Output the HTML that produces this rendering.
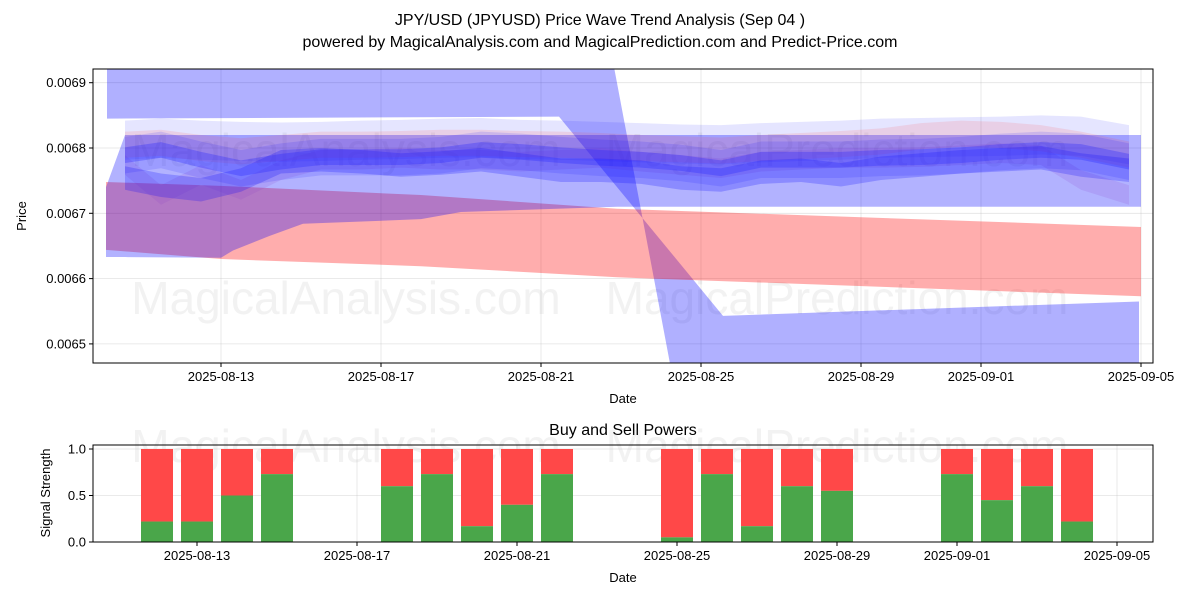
<!DOCTYPE html>
<html><head><meta charset="utf-8"><style>
html,body{margin:0;padding:0;background:#fff;overflow:hidden;}
svg{display:block;}
svg text{font-family:"Liberation Sans","DejaVu Sans",sans-serif;}
</style></head>
<body>
<svg id="chart" width="1200" height="600" xmlns="http://www.w3.org/2000/svg">
<rect width="1200" height="600" fill="#fff"/>
<text x="600" y="25" text-anchor="middle" font-size="16">JPY/USD (JPYUSD) Price Wave Trend Analysis (Sep 04 )</text>
<text x="600" y="47" text-anchor="middle" font-size="16">powered by MagicalAnalysis.com and MagicalPrediction.com and Predict-Price.com</text>
<g id="topPanel"></g>
<g id="botPanel"></g>
</svg>
<script>
// ---- data ----
const tickDates = ["2025-08-13","2025-08-17","2025-08-21","2025-08-25","2025-08-29","2025-09-01","2025-09-05"];
const tickDays = [0,4,8,12,16,19,23];
const priceTicks = [0.0065,0.0066,0.0067,0.0068,0.0069];
const priceTickLabels = ["0.0065","0.0066","0.0067","0.0068","0.0069"];
const bigDays = [-2.85,8.45,12.55,22.95];
const bigA = [0.00737,0.00737,0.00604,0.0060];
const bigB = [0.006845,0.006848,0.006543,0.006565];
const redDays = [-2.875,0,5,9.9,23];
const redUpper = [0.006748,0.006742,0.006728,0.006707,0.006679];
const redLower = [0.006644,0.006630,0.006619,0.006602,0.006573];
const wideDays = [-2.875,-2.4,0,0.3,1.2,2.05,5,6,9.9,23];
const wideUpper = [0.00674,0.00682,0.00682,0.00682,0.00682,0.00682,0.00682,0.00682,0.00682,0.00682];
const wideLower = [0.006633,0.006633,0.006632,0.006643,0.006665,0.006684,0.006691,0.006702,0.006710,0.006710];
const waveDays = [-2.4,-1.5,-0.5,0.5,1.5,2.5,3.5,4.5,5.5,6.5,7.5,8.5,9.5,10.5,11.5,12.5,13.5,14.5,15.5,16.5,17.5,18.5,19.5,20.5,21.5,22.7];
const wave1 = [.006789,.006797,.006782,.006769,.006779,.006786,.006786,.006786,.006789,.006797,.006794,.006789,.006785,.006782,.006777,.006769,.006782,.006782,.006782,.006785,.006786,.006789,.006794,.006797,.006794,.006779];
const wave2 = [.006754,.006743,.006736,.006751,.006779,.006782,.006779,.006774,.006777,.006782,.006774,.006766,.006766,.006763,.006754,.006751,.006763,.006766,.006759,.006769,.006774,.006779,.006782,.006785,.006774,.006766];
const wave3 = [.006812,.006815,.006812,.006810,.006809,.006810,.006812,.006813,.006815,.006816,.006813,.006812,.006810,.006808,.006806,.006805,.006808,.006810,.006812,.006815,.006816,.006817,.006818,.006820,.006818,.006805];
const waveZ = [.006774,.006728,.006759,.006736,.006766,.006782,.006782,.006785,.006782,.006782,.006779,.006782,.006785,.006779,.006774,.006769,.006779,.006782,.006785,.006785,.006786,.006789,.006792,.006789,.006751,.006728];
const waveR = [.006805,.006808,.006800,.006795,.006800,.006805,.006805,.006806,.006808,.006808,.006806,.006805,.006803,.006800,.006798,.006796,.006800,.006803,.006806,.006810,.006818,.006822,.006820,.006815,.006805,.006790];
const barDays = [-1,0,1,2,5,6,7,8,9,12,13,14,15,16,19,20,21,22];
const buyPower = [0.22,0.22,0.5,0.73,0.6,0.73,0.17,0.4,0.73,0.05,0.73,0.17,0.6,0.55,0.73,0.45,0.6,0.22];
const powerTicks = [0,0.5,1];
const powerTickLabels = ["0.0","0.5","1.0"];

const NS="http://www.w3.org/2000/svg";
function mk(parent,tag,attrs){const e=document.createElementNS(NS,tag);for(const k in attrs)e.setAttribute(k,attrs[k]);parent.appendChild(e);return e;}
const L=93,R=1153;
const xS=d=>221+40*d;
const xB=d=>197+40*d;
const T0=69,T1=363; const yS=p=>148+(0.0068-p)*653000;
const B0=445,B1=542; const yB=v=>542-v*93;
const topG=document.getElementById('topPanel'), botG=document.getElementById('botPanel');

const defs=mk(topG,'defs',{});
const cp=mk(defs,'clipPath',{id:'ctop'}); mk(cp,'rect',{x:L,y:T0,width:R-L,height:T1-T0});
tickDays.forEach(d=>{const g=mk(topG,'line',{x1:xS(d),x2:xS(d),y1:T0,y2:T1,stroke:'#b0b0b0','stroke-opacity':0.35,'stroke-width':0.8});

});
priceTicks.forEach(p=>{const g=mk(topG,'line',{x1:L,x2:R,y1:yS(p),y2:yS(p),stroke:'#b0b0b0','stroke-opacity':0.35,'stroke-width':0.8});

});
[[346,314,'MagicalAnalysis.com'],[837,314,'MagicalPrediction.com'],[346,166,'MagicalAnalysis.com'],[837,166,'MagicalPrediction.com']].forEach(w=>{
const t=mk(topG,'text',{x:w[0],y:w[1],'text-anchor':'middle','font-size':46,fill:'#808080','fill-opacity':0.1});t.textContent=w[2];

});
const g2=mk(topG,'g',{'clip-path':'url(#ctop)'});
function band(days,a,b,fill,name){
  let pts=days.map((d,i)=>xS(d)+','+yS(a[i]));
  for(let i=days.length-1;i>=0;i--)pts.push(xS(days[i])+','+yS(b[i]));
  const p=mk(g2,'polygon',{points:pts.join(' '),fill:fill});
  
  
}
function wave(vals,hw,fill,name){band(waveDays,vals.map(v=>v+hw),vals.map(v=>v-hw),fill,name);}
band(bigDays,bigA,bigB,'rgba(0,0,255,0.31)','wave-band-big');
band(redDays,redUpper,redLower,'rgba(255,0,0,0.32)','wave-band-red');
band(wideDays,wideUpper,wideLower,'rgba(0,0,255,0.3)','wave-band-wide');
wave(wave3,0.00003,'rgba(0,0,255,0.1)','wave-band-light');
wave(waveR,0.00002,'rgba(255,60,60,0.13)','wave-band-red-faint');
wave(waveZ,0.000015,'rgba(140,60,200,0.15)','wave-band-zigzag');
wave(wave2,0.000018,'rgba(0,0,255,0.22)','wave-band-lower');
wave(wave1,0.000012,'rgba(40,40,255,0.3)','wave-band-main');
wave(wave1,0.000028,'rgba(0,0,255,0.12)','wave-band-main-halo');
mk(topG,'rect',{x:L,y:T0,width:R-L,height:T1-T0,fill:'none',stroke:'#000','stroke-width':1});
tickDays.forEach((d,i)=>{mk(topG,'line',{x1:xS(d),x2:xS(d),y1:T1,y2:T1+4,stroke:'#000'});
const t=mk(topG,'text',{x:xS(d),y:T1+18,'text-anchor':'middle','font-size':13});t.textContent=tickDates[i];

});
priceTicks.forEach((p,i)=>{mk(topG,'line',{x1:L-4,x2:L,y1:yS(p),y2:yS(p),stroke:'#000'});
const t=mk(topG,'text',{x:L-7,y:yS(p)+4.5,'text-anchor':'end','font-size':13});t.textContent=priceTickLabels[i];

});
let tt=mk(topG,'text',{x:623,y:403,'text-anchor':'middle','font-size':13});tt.textContent='Date';


tt=mk(topG,'text',{x:26,y:216,'text-anchor':'middle','font-size':13,transform:'rotate(-90 26 216)'});tt.textContent='Price';



tt=mk(botG,'text',{x:623,y:435,'text-anchor':'middle','font-size':16});tt.textContent='Buy and Sell Powers';


[[346,462,'MagicalAnalysis.com'],[837,462,'MagicalPrediction.com']].forEach(w=>{
const q=mk(botG,'text',{x:w[0],y:w[1],'text-anchor':'middle','font-size':46,fill:'#808080','fill-opacity':0.1});q.textContent=w[2];

});
tickDays.forEach(d=>{const g=mk(botG,'line',{x1:xB(d),x2:xB(d),y1:B0,y2:B1,stroke:'#b0b0b0','stroke-opacity':0.35,'stroke-width':0.8});

});
powerTicks.forEach(v=>{const g=mk(botG,'line',{x1:L,x2:R,y1:yB(v),y2:yB(v),stroke:'#b0b0b0','stroke-opacity':0.35,'stroke-width':0.8});

});
barDays.forEach((d,i)=>{
  const x=xB(d)-16, g=buyPower[i];
  const s=mk(botG,'rect',{x:x,y:yB(1),width:32,height:yB(g)-yB(1),fill:'rgb(255,72,72)'});
  
  
  const b=mk(botG,'rect',{x:x,y:yB(g),width:32,height:yB(0)-yB(g),fill:'rgb(74,166,74)'});
  
  
});
mk(botG,'rect',{x:L,y:B0,width:R-L,height:B1-B0,fill:'none',stroke:'#000','stroke-width':1});
tickDays.forEach((d,i)=>{mk(botG,'line',{x1:xB(d),x2:xB(d),y1:B1,y2:B1+4,stroke:'#000'});
const q=mk(botG,'text',{x:xB(d),y:B1+18,'text-anchor':'middle','font-size':13});q.textContent=tickDates[i];

});
powerTicks.forEach((v,i)=>{mk(botG,'line',{x1:L-4,x2:L,y1:yB(v),y2:yB(v),stroke:'#000'});
const q=mk(botG,'text',{x:L-7,y:yB(v)+4.5,'text-anchor':'end','font-size':13});q.textContent=powerTickLabels[i];

});
tt=mk(botG,'text',{x:623,y:582,'text-anchor':'middle','font-size':13});tt.textContent='Date';


tt=mk(botG,'text',{x:50,y:493,'text-anchor':'middle','font-size':13,transform:'rotate(-90 50 493)'});tt.textContent='Signal Strength';


</script>
</body></html>
